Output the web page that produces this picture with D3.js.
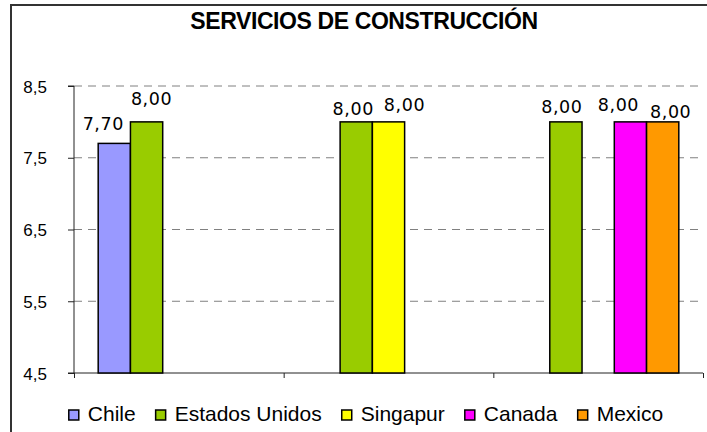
<!DOCTYPE html>
<html>

<head>
    <meta charset="utf-8">
    <style>
        body {
            margin: 0;
            background: white;
        }

        svg {
            display: block;
            font-family: 'Liberation Sans', Arial, sans-serif;
        }
    </style>
</head>

<body>
    <svg width="707" height="432"></svg>

    <script src="https://d3js.org/d3.v7.min.js"></script>

    <script>
        // chart values
        let categories = ["Grupo 1", "Grupo 2", "Grupo 3"]
        let series = ["Chile", "Estados Unidos", "Singapur", "Canada", "Mexico"]
        let chile = [7.70, null, null]
        let estadosUnidos = [8.00, 8.00, 8.00]
        let singapur = [null, 8.00, null]
        let canada = [null, null, 8.00]
        let mexico = [null, null, 8.00]
        let yTicks = [4.5, 5.5, 6.5, 7.5, 8.5]
        let title = "SERVICIOS DE CONSTRUCCIÓN"

        let values = [chile, estadosUnidos, singapur, canada, mexico]
        let colors = ["#9999ff", "#99cc00", "#ffff00", "#ff00ff", "#ff9900"]

        // small offsets for the value labels so they don't sit on top of each other
        let labelNudge = {
            "Chile-0": [-11, -4],
            "Estados Unidos-0": [5, -8],
            "Estados Unidos-1": [-3, 2],
            "Singapur-1": [16, -2],
            "Estados Unidos-2": [-4, 0],
            "Canada-2": [-12, -2],
            "Mexico-2": [8, 5]
        }

        let svg = d3.select("svg")

        let margin = { left: 74, right: 4, top: 86, bottom: 59 }
        let width = 707
        let height = 432

        // comma decimals like the original
        let locale = d3.formatLocale({ decimal: ",", thousands: ".", grouping: [3], currency: ["$", ""] })
        let fmt1 = locale.format(".1f")
        let fmt2 = locale.format(".2f")

        // outer frame (right and bottom edges fall outside the picture)
        svg.append("rect")
            .attr("x", 11)
            .attr("y", 5)
            .attr("width", 720)
            .attr("height", 440)
            .style("fill", "none")
            .style("stroke", "#333")
            .style("stroke-width", 2)

        svg.append("text")
            .attr("x", 364)
            .attr("y", 28.5)
            .attr("text-anchor", "middle")
            .style("font-size", "23px")
            .style("font-weight", "bold")
            .style("letter-spacing", "-0.4px")
            .text(title)

        let x = d3.scaleBand()
            .domain(categories)
            .range([margin.left, width - margin.right])
            .paddingInner(0)
            .paddingOuter(0)

        // excel style gap width 150% -> 0.75 bar on each side
        let xInner = d3.scaleBand()
            .domain(series)
            .range([0, x.bandwidth()])
            .paddingInner(0)
            .paddingOuter(0.75)

        let y = d3.scaleLinear()
            .domain([4.5, 8.5])
            .range([height - margin.bottom, margin.top])

        // gridlines
        svg.append("g")
            .selectAll("line")
            .data(yTicks.slice(1))
            .join("line")
            .attr("x1", margin.left)
            .attr("x2", width - margin.right)
            .attr("y1", d => y(d))
            .attr("y2", d => y(d))
            .style("stroke", "#808080")
            .style("stroke-width", 1)
            .style("stroke-dasharray", "8,6")

        // y axis
        let yAxis = svg.append("g")
            .attr("transform", `translate(${margin.left},0)`)
            .call(d3.axisLeft(y).tickValues(yTicks).tickSize(6).tickPadding(21).tickFormat(fmt1))
            .attr("font-size", 17)
            .attr("font-family", "'Liberation Sans', Arial, sans-serif")

        yAxis.select(".domain").style("stroke", "#222").attr("d", `M-6,${y(8.5)}H0V${y(4.5)}H-6`)
        yAxis.selectAll(".tick line").style("stroke", "#222")
        yAxis.selectAll("text")
            .attr("dy", "0.36em")
            .style("fill", "#000")

        // x axis: ticks between categories, no labels
        let xEdges = d3.scaleLinear()
            .domain([0, categories.length])
            .range([margin.left, width - margin.right])

        let xAxis = svg.append("g")
            .attr("transform", `translate(0,${y(4.5)})`)
            .call(d3.axisBottom(xEdges).ticks(categories.length).tickSize(5).tickFormat(""))

        xAxis.select(".domain").style("stroke", "#222").attr("d", `M${margin.left},0H${width - margin.right}`)
        xAxis.selectAll(".tick line").style("stroke", "#222")

        // flatten into bar records
        let bars = []
        series.forEach((s, i) => {
            values[i].forEach((v, j) => {
                if (v != null) bars.push({ series: s, cat: categories[j], idx: j, value: v, color: colors[i] })
            })
        })

        svg.append("g")
            .selectAll("rect")
            .data(bars)
            .join("rect")
            .attr("x", d => x(d.cat) + xInner(d.series))
            .attr("y", d => y(d.value))
            .attr("width", xInner.bandwidth())
            .attr("height", d => y(4.5) - y(d.value))
            .style("fill", d => d.color)
            .style("stroke", "#000")
            .style("stroke-width", 1.5)

        svg.append("g")
            .selectAll("text")
            .data(bars)
            .join("text")
            .attr("x", d => {
                let n = labelNudge[d.series + "-" + d.idx] || [0, 0]
                return x(d.cat) + xInner(d.series) + xInner.bandwidth() / 2 + n[0]
            })
            .attr("y", d => {
                let n = labelNudge[d.series + "-" + d.idx] || [0, 0]
                return y(d.value) - 9 + n[1]
            })
            .attr("text-anchor", "middle")
            .style("font-family", "'DejaVu Sans', Verdana, sans-serif")
            .style("font-size", "17.5px")
            .style("letter-spacing", "0.6px")
            .text(d => fmt2(d.value))

        // legend, centred under the plot
        let legend = svg.append("g")
        let items = legend.selectAll("g")
            .data(series)
            .join("g")

        items.append("rect")
            .attr("width", 10)
            .attr("height", 10)
            .attr("y", -11)
            .style("fill", (d, i) => colors[i])
            .style("stroke", "#000")
            .style("stroke-width", 1.5)

        items.append("text")
            .attr("x", 19)
            .attr("y", 0)
            .style("font-size", "21px")
            .text(d => d)

        let pos = 0
        items.each(function () {
            let w = this.getBBox().width
            d3.select(this).attr("transform", `translate(${pos},421)`)
            pos += w + 20
        })
        let total = pos - 20
        legend.attr("transform", `translate(${366 - total / 2},0)`)
    </script>
</body>

</html>
